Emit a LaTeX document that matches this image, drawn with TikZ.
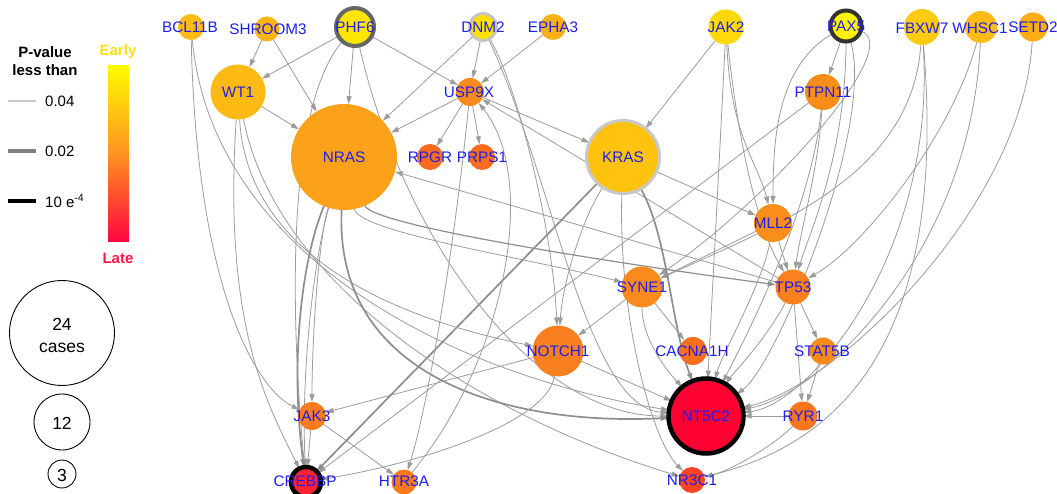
\documentclass[tikz,border=0pt]{standalone}
\usepackage{fontspec}
\setmainfont{Liberation Sans}
\usetikzlibrary{arrows.meta,backgrounds}
\definecolor{lblue}{RGB}{30,30,235}
\definecolor{eg}{HTML}{9C9C9C}
\definecolor{egd}{HTML}{8E8E8E}
\definecolor{cBCL}{HTML}{FDBB14}
\definecolor{cSHR}{HTML}{FDB516}
\definecolor{cPHF}{HTML}{FFE600}
\definecolor{bPHF}{HTML}{666666}
\definecolor{cDNM}{HTML}{FFE000}
\definecolor{bDNM}{HTML}{C4C4C4}
\definecolor{cEPH}{HTML}{FCAF16}
\definecolor{cJAKtwo}{HTML}{FFD80A}
\definecolor{cPAX}{HTML}{FFF200}
\definecolor{bPAX}{HTML}{333333}
\definecolor{cFBX}{HTML}{FFCB10}
\definecolor{cWHS}{HTML}{FDBB16}
\definecolor{cSET}{HTML}{FCAD16}
\definecolor{cWT}{HTML}{FDBA14}
\definecolor{cUSP}{HTML}{F98B1B}
\definecolor{cPTP}{HTML}{FA8D1A}
\definecolor{cNRAS}{HTML}{FBA11A}
\definecolor{cRPGR}{HTML}{F96B1D}
\definecolor{cKRAS}{HTML}{FFC30F}
\definecolor{bKRAS}{HTML}{C8C8C8}
\definecolor{cMLL}{HTML}{FA8E1A}
\definecolor{cSYN}{HTML}{FA8A1B}
\definecolor{cTP}{HTML}{FA811E}
\definecolor{cNOTCH}{HTML}{F98020}
\definecolor{cCAC}{HTML}{F8701F}
\definecolor{cSTAT}{HTML}{FA8B1B}
\definecolor{cNT}{HTML}{FF0033}
\definecolor{cRYR}{HTML}{F9751F}
\definecolor{cJAKthree}{HTML}{F97C1D}
\definecolor{cCREB}{HTML}{FF2234}
\definecolor{cHTR}{HTML}{F97A1D}
\definecolor{cNR}{HTML}{FF4424}
\definecolor{cbY}{HTML}{FFFA00}
\definecolor{cbO}{HTML}{FF9220}
\definecolor{cbR}{HTML}{FF0540}
\definecolor{earlyc}{HTML}{FFE20A}
\definecolor{latec}{HTML}{FF1744}
\definecolor{lgA}{HTML}{C8C8C8}
\definecolor{lgB}{HTML}{808080}
\begin{document}
\begin{tikzpicture}[x=1pt,y=-1pt,
  gn/.style={circle,inner sep=0pt,outer sep=0pt,minimum size=#1},
  lb/.style={font=\fontsize{15.3}{16}\selectfont,text=lblue,inner sep=0pt},
  edg/.style={draw=eg,line width=0.8pt,-{Triangle[length=8pt,width=5pt]}},
  edgm/.style={draw=egd,line width=1.2pt,-{Triangle[length=8pt,width=5pt]}},
  edgt/.style={draw=egd,line width=1.7pt,-{Triangle[length=8pt,width=5pt]}},
  lgt/.style={font=\fontsize{15}{18}\selectfont,inner sep=0pt},
  lgb/.style={font=\bfseries\fontsize{15}{18}\selectfont,inner sep=0pt,align=center},
  cnode/.style={circle,draw=black,line width=0.9pt,inner sep=0pt,minimum size=#1},
  ctext/.style={font=\fontsize{17.5}{22}\selectfont,inner sep=0pt,align=center}
]
\useasboundingbox (0,0) rectangle (1057,494);
\clip (0,0) rectangle (1057,494);

% ---------- legend ----------
\node[lgb] (pv) at (45,61) {P-value\\less than};
\draw[lgA,line width=2.5pt] (8,101) -- (36,101);
\draw[lgB,line width=3.5pt] (8,151) -- (36,151);
\draw[black,line width=4pt] (8,201) -- (36,201);
\node[lgt,anchor=west] (pa) at (45,101) {0.04};
\node[lgt,anchor=west] (pb) at (45,151) {0.02};
\node[lgt,anchor=west] (pc) at (45,201) {10 e\textsuperscript{-4}};
\node[lgb,text=earlyc] (early) at (118,52) {Early};
\node[lgb,text=latec] (late) at (118,258) {Late};
\shade[top color=cbY,bottom color=cbO] (108,66) rectangle (129,154.5);
\shade[top color=cbO,bottom color=cbR] (108,154) rectangle (129,242);
\node[cnode=105pt] (c24) at (62,333) {};
\node[ctext] (c24t) at (62,335) {24\\cases};
\node[cnode=56pt] (c12) at (62,422) {};
\node[ctext] (c12t) at (62,423) {12};
\node[cnode=28pt] (c3) at (62,474) {};
\node[ctext] (c3t) at (62,475) {3};

% ---------- nodes ----------
\node[gn=26pt,fill=cBCL] (bcl) at (191,27) {};
\node[gn=25pt,fill=cSHR] (shr) at (267,29) {};
\node[gn=38pt,fill=cPHF,draw=bPHF,line width=4pt] (phf) at (355,27) {};
\node[gn=27pt,fill=cDNM,draw=bDNM,line width=2.8pt] (dnm) at (483,27) {};
\node[gn=26pt,fill=cEPH] (eph) at (553,27) {};
\node[gn=35pt,fill=cJAKtwo] (jak2) at (726,27) {};
\node[gn=31pt,fill=cPAX,draw=bPAX,line width=4pt] (pax) at (846,26) {};
\node[gn=36pt,fill=cFBX] (fbx) at (922,27) {};
\node[gn=32pt,fill=cWHS] (whs) at (981,27) {};
\node[gn=29pt,fill=cSET] (set) at (1033,27) {};
\node[gn=55pt,fill=cWT] (wt1) at (238,92) {};
\node[gn=28pt,fill=cUSP] (usp) at (470,92) {};
\node[gn=36pt,fill=cPTP] (ptp) at (823,92) {};
\node[gn=106pt,fill=cNRAS] (nras) at (344,157) {};
\node[gn=26pt,fill=cRPGR] (rpgr) at (430,157) {};
\node[gn=26pt,fill=cRPGR] (prps) at (482,157) {};
\node[gn=73pt,fill=cKRAS,draw=bKRAS,line width=3pt] (kras) at (623,157) {};
\node[gn=38pt,fill=cMLL] (mll) at (773,223) {};
\node[gn=41pt,fill=cSYN] (syn) at (642,287) {};
\node[gn=35pt,fill=cTP] (tp53) at (793,287) {};
\node[gn=51pt,fill=cNOTCH] (notch) at (558,351) {};
\node[gn=28pt,fill=cCAC] (cac) at (693,351) {};
\node[gn=27pt,fill=cSTAT] (stat) at (823,351) {};
\node[gn=75pt,fill=cNT,draw=black,line width=4.5pt] (nt5) at (706,416) {};
\node[gn=29pt,fill=cRYR] (ryr) at (803,416) {};
\node[gn=28pt,fill=cJAKthree] (jak3) at (312,416) {};
\node[gn=30pt,fill=cCREB,draw=black,line width=4.5pt] (creb) at (306,482) {};
\node[gn=25pt,fill=cHTR] (htr) at (404,482) {};
\node[gn=26pt,fill=cNR] (nr3) at (692,480) {};

% ---------- edges ----------
\begin{scope}[on background layer]
\fill[white] (0,0) rectangle (1057,494);
\draw[edg] (shr) -- (wt1);
\draw[edg] (shr) -- (nras);
\draw[edg] (phf) -- (wt1);
\draw[edg] (phf) -- (nras);
\draw[edg] (phf) -- (usp);
\draw[edg] (dnm) -- (usp);
\draw[edg] (dnm) -- (nras);
\draw[edg] (eph) -- (usp);
\draw[edg] (usp) -- (nras);
\draw[edg] (usp) -- (rpgr);
\draw[edg] (usp) -- (prps);
\draw[edg] (usp) -- (kras);
\draw[edg] (wt1) -- (nras);
\draw[edg] (jak2) -- (kras);
\draw[edg] (pax) -- (ptp);
\draw[edg] (kras) -- (mll);
\draw[edg] (mll) -- (tp53);
\draw[edg] (mll) -- (syn);
\draw[edg] (tp53) -- (stat);
\draw[edg] (tp53) -- (ryr);
\draw[edg] (stat) -- (ryr);
\draw[edg] (ryr) -- (nt5);
\draw[edg] (syn) -- (notch);
\draw[edg] (syn) -- (cac);
\draw[edg] (ptp) -- (creb);
\draw[edg] (tp53) -- (nras);
\draw[edg] (tp53) -- (usp);
\draw[edg] (notch) -- (jak3);
\draw[edg] (notch) -- (nt5);
\draw[edg] (jak3) -- (creb);
\draw[edg] (jak3) -- (htr);
\draw[edgt] (kras) -- (creb);
\draw[edg] (ptp) .. controls +(-5,80) and +(8,-60) .. (tp53);
\draw[edg] (ptp) .. controls +(-12,120) and +(40,-80) .. (nt5);
\draw[edg] (pax) .. controls +(-70,40) and +(0,-80) .. (mll);
\draw[edg] (pax) .. controls +(0,130) and +(15,-50) .. (tp53);
\draw[edg] (pax) .. controls +(30,100) and +(70,-50) .. (nt5);
\draw[edg] (pax) .. controls +(60,20) and +(130,-90) .. (syn);
\draw[edg] (fbx) .. controls +(-10,150) and +(130,-60) .. (syn);
\draw[edg] (whs) .. controls +(-30,110) and +(70,-40) .. (tp53);
\draw[edg] (fbx) .. controls +(15,230) and +(100,-10) .. (nt5);
\draw[edg] (fbx) .. controls +(25,300) and +(160,-40) .. (nr3);
\draw[edg] (whs) .. controls +(-10,230) and +(110,-20) .. (nt5);
\draw[edg] (set) .. controls +(-10,180) and +(130,-30) .. (nt5);
\draw[edg] (jak2) .. controls +(-8,160) and +(5,-100) .. (nt5);
\draw[edg] (jak2) .. controls +(5,110) and +(-15,-60) .. (mll);
\draw[edg] (jak2) .. controls +(15,140) and +(-30,-50) .. (tp53);
\draw[edg] (mll) .. controls +(-10,60) and +(15,-60) .. (nt5);
\draw[edg] (tp53) .. controls +(-25,50) and +(25,-40) .. (nt5);
\draw[edg] (ryr) .. controls +(-30,30) and +(40,-10) .. (nr3);
\draw[edgt] (kras) .. controls +(45,80) and +(-35,-90) .. (nt5);
\draw[edg] (kras) .. controls +(-40,60) and +(5,-70) .. (notch);
\draw[edg] (kras) .. controls +(-5,160) and +(-40,-40) .. (nr3);
\draw[edg] (dnm) .. controls +(35,60) and +(-5,-120) .. (notch);
\draw[edg] (dnm) .. controls +(70,150) and +(-120,-10) .. (nt5);
\draw[edg] (phf) .. controls +(-70,80) and +(-15,-160) .. (creb);
\draw[edg] (phf) .. controls +(50,220) and +(-170,0) .. (nt5);
\draw[edg] (bcl) .. controls +(5,250) and +(-60,-30) .. (jak3);
\draw[edg] (bcl) .. controls +(22,230) and +(-250,-40) .. (nt5);
\draw[edg] (wt1) .. controls +(-15,230) and +(-40,-80) .. (creb);
\draw[edg] (wt1) .. controls +(10,170) and +(-150,-30) .. (notch);
\draw[edg] (wt1) .. controls +(40,200) and +(-200,-60) .. (nr3);
\draw[edg] (nras) .. controls +(-30,100) and +(-5,-110) .. (creb);
\draw[edgt] (nras) .. controls +(-45,110) and +(-15,-110) .. (creb);
\draw[edgt] (nras) .. controls +(-10,220) and +(-200,10) .. (nt5);
\draw[edg] (nras) .. controls +(15,75) and +(-120,-30) .. (syn);
\draw[edgm] (nras) .. controls +(30,70) and +(-150,-20) .. (tp53);
\draw[edg] (nras) .. controls +(-25,80) and +(0,-80) .. (jak3);
\draw[edg] (syn) .. controls +(0,60) and +(-25,-30) .. (nt5);
\draw[edg] (notch) .. controls +(-10,70) and +(120,-20) .. (creb);
\draw[edg] (usp) .. controls +(-15,150) and +(25,-80) .. (htr);
\draw[edg] (htr) .. controls +(100,-120) and +(70,88) .. (usp);
\end{scope}

% ---------- labels ----------
\node[lb] (bcl-l) at (190,27) {BCL11B};
\node[lb] (shr-l) at (268,29) {SHROOM3};
\node[lb] (phf-l) at (355,27) {PHF6};
\node[lb] (dnm-l) at (483,27) {DNM2};
\node[lb] (eph-l) at (553,27) {EPHA3};
\node[lb] (jak2-l) at (726,27) {JAK2};
\node[lb] (pax-l) at (846,26) {PAX5};
\node[lb] (fbx-l) at (922,28) {FBXW7};
\node[lb] (whs-l) at (980,28) {WHSC1};
\node[lb] (set-l) at (1033,27) {SETD2};
\node[lb] (wt1-l) at (238,92) {WT1};
\node[lb] (usp-l) at (469,92) {USP9X};
\node[lb] (ptp-l) at (823,92) {PTPN11};
\node[lb] (nras-l) at (344,157) {NRAS};
\node[lb] (rpgr-l) at (430,157) {RPGR};
\node[lb] (prps-l) at (482,157) {PRPS1};
\node[lb] (kras-l) at (623,157) {KRAS};
\node[lb] (mll-l) at (773,223) {MLL2};
\node[lb] (syn-l) at (642,287) {SYNE1};
\node[lb] (tp53-l) at (793,287) {TP53};
\node[lb] (notch-l) at (558,351) {NOTCH1};
\node[lb] (cac-l) at (692,351) {CACNA1H};
\node[lb] (stat-l) at (822,351) {STAT5B};
\node[lb] (nt5-l) at (706,416) {NT5C2};
\node[lb] (ryr-l) at (803,416) {RYR1};
\node[lb] (jak3-l) at (312,416) {JAK3};
\node[lb] (creb-l) at (305,481) {CREBBP};
\node[lb] (htr-l) at (404,481) {HTR3A};
\node[lb] (nr3-l) at (692,480) {NR3C1};
\end{tikzpicture}
\end{document}
